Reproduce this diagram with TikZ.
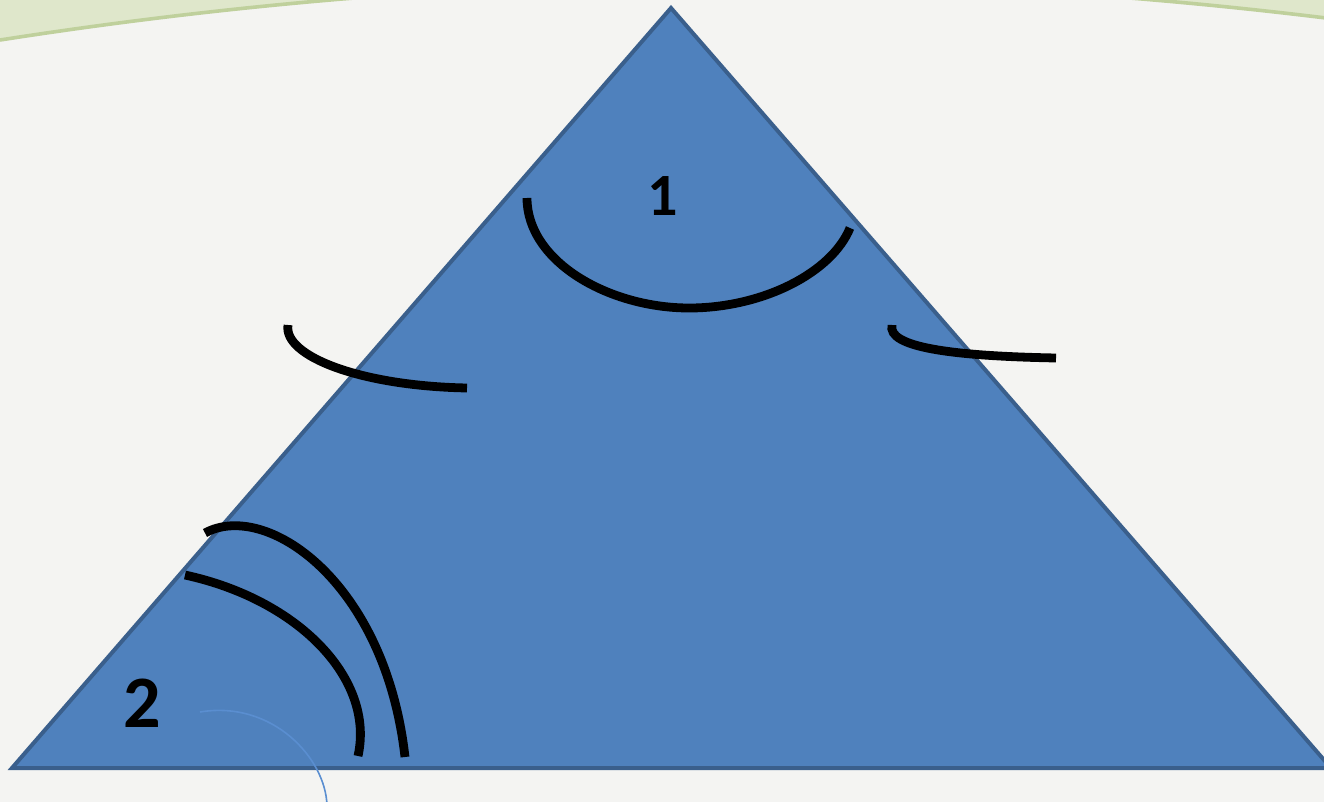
\documentclass[tikz,border=0pt]{standalone}
\usepackage{fontspec}
\newfontfamily\labfont{Carlito}
\definecolor{bgc}{HTML}{F4F4F2}
\definecolor{greenfill}{HTML}{DFE7CB}
\definecolor{greenedge}{HTML}{BFD09C}
\definecolor{trifill}{HTML}{4F81BD}
\definecolor{triedge}{HTML}{3A5F8C}
\definecolor{thinblue}{HTML}{5A8ED0}
\tikzset{
  mark line/.style={draw=black, line width=4.4pt, line cap=butt},
  angle label/.style={font=\labfont\bfseries, text=black, inner sep=0pt},
}
\begin{document}
\begin{tikzpicture}[x=0.5pt,y=-0.5pt]
\useasboundingbox (0,0) rectangle (1324,802);
\begin{scope}
\clip (0,0) rectangle (1324,802);
\fill[bgc] (0,0) rectangle (1324,802);
% green decoration at top
\fill[greenfill] (0,-30) -- plot[domain=0:1324,samples=60] (\x,{1.05*((\x-742)/100)^2-17.8}) -- (1324,-30) -- cycle;
\draw[greenedge, line width=1.8pt] plot[domain=0:1324,samples=60] (\x,{1.05*((\x-742)/100)^2-17.8});
% triangle
\coordinate (A) at (671,8);
\coordinate (B) at (12,768);
\coordinate (C) at (1331,768);
\filldraw[fill=trifill, draw=triedge, line width=2pt, line join=miter] (A) -- (B) -- (C) -- cycle;
% thin blue arc
\draw[thinblue, line width=0.8pt] (200,712) .. controls (272,700) and (326,758) .. (327,806);
% angle marks
\draw[mark line] (527,198) .. controls (527,262) and (610,309) .. (692,308) .. controls (765,307) and (832,272) .. (850,228);
\draw[mark line] (288,325) .. controls (283,356) and (360,386) .. (467,388);
\draw[mark line] (892,325) .. controls (887,347) and (950,356) .. (1056,358);
\draw[mark line] (185,575) .. controls (300,600) and (375,680) .. (358,756);
\draw[mark line] (205,533) .. controls (265,500) and (385,580) .. (405,757);
\end{scope}
% labels
\node[angle label, font=\labfont\bfseries\fontsize{30}{36}\selectfont] (one) at (663,196) {1};
\node[angle label, font=\labfont\bfseries\fontsize{37}{44}\selectfont] (two) at (142,703) {2};
\end{tikzpicture}
\end{document}
